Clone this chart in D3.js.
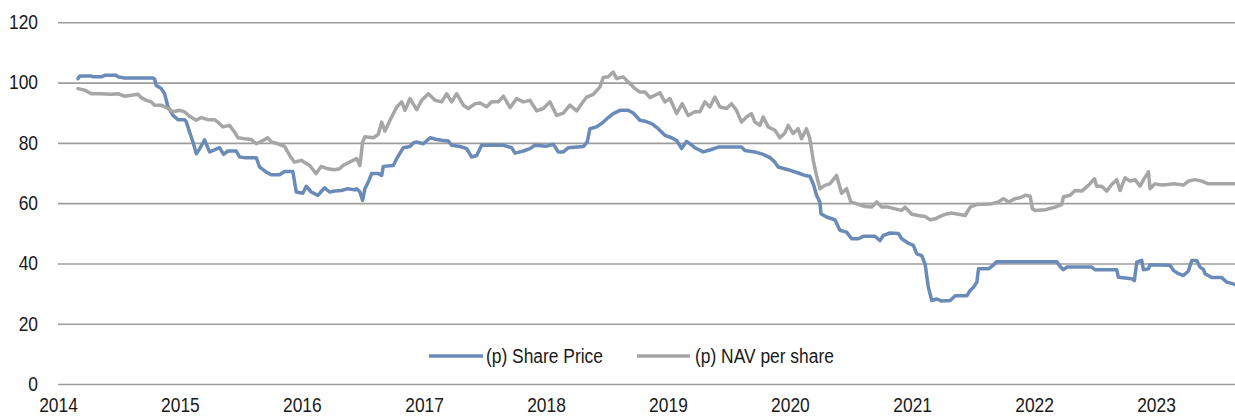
<!DOCTYPE html>
<html><head><meta charset="utf-8">
<script src="https://cdn.jsdelivr.net/npm/d3@7"></script>
<style>body{margin:0;background:#fff;overflow:hidden}</style>
</head><body><svg id="c" width="1235" height="417"></svg>
<script>
// ---- data (decimal years, pence) ----
const yearTicks = [2014,2015,2016,2017,2018,2019,2020,2021,2022,2023];
const yTicks = [0,20,40,60,80,100,120];
const seriesNames = ["(p) Share Price", "(p) NAV per share"];

const shareYears = [2014.164,2014.178,2014.273,2014.287,2014.355,2014.383,2014.478,2014.492,2014.546,2014.779,2014.792,2014.806,2014.847,2014.874,2014.902,2014.943,2014.984,2015.038,2015.052,2015.079,2015.107,2015.134,2015.161,2015.202,2015.243,2015.284,2015.325,2015.358,2015.393,2015.462,2015.489,2015.530,2015.626,2015.653,2015.708,2015.749,2015.817,2015.858,2015.926,2015.954,2016.008,2016.036,2016.077,2016.131,2016.186,2016.227,2016.268,2016.322,2016.377,2016.432,
2016.448,2016.475,2016.497,2016.516,2016.543,2016.571,2016.625,2016.653,2016.666,2016.748,2016.776,2016.830,2016.885,2016.912,2016.939,2016.994,2017.049,2017.103,2017.158,2017.199,2017.226,2017.295,2017.349,2017.390,2017.431,2017.472,2017.650,2017.718,2017.745,2017.814,2017.868,2017.909,2018.005,2018.060,2018.101,2018.142,2018.183,2018.306,2018.338,2018.360,2018.415,2018.470,2018.510,2018.551,2018.606,2018.674,2018.715,2018.770,
2018.811,2018.866,2018.920,2018.975,2019.030,2019.071,2019.112,2019.153,2019.221,2019.289,2019.357,2019.412,2019.603,2019.631,2019.713,2019.781,2019.836,2019.877,2019.904,2019.986,2020.068,2020.122,2020.163,2020.191,2020.218,2020.245,2020.254,2020.300,2020.368,2020.409,2020.464,2020.505,2020.560,2020.601,2020.696,2020.737,2020.765,2020.819,2020.888,2020.915,2020.969,2021.010,2021.038,2021.079,2021.106,2021.133,2021.161,2021.202,
2021.244,2021.312,2021.353,2021.449,2021.476,2021.503,2021.531,2021.544,2021.626,2021.653,2021.694,2022.186,2022.214,2022.241,2022.268,2022.473,2022.500,2022.678,2022.692,2022.801,2022.823,2022.842,2022.883,2022.897,2022.938,2022.951,2023.115,2023.143,2023.184,2023.225,2023.266,2023.293,2023.334,2023.361,2023.388,2023.402,2023.457,2023.539,2023.580,2023.634,2023.648];
const shareValues = [101.3,102.2,102.2,101.9,101.9,102.4,102.4,101.9,101.5,101.5,101.2,99,98,96.3,92,89.1,87.7,87.7,87,83.6,80.3,76.4,78,81,77,77.7,78.4,76.2,77.3,77.3,75.3,75.1,75.1,72,70.3,69.4,69.4,70.5,70.5,63.7,63.3,65.6,63.7,62.6,65.1,63.7,64,64.2,64.8,64.4,
64.8,63.7,60.9,64.8,67,69.8,69.8,69.2,72.2,72.5,74.8,78.4,78.8,80,80.3,79.7,81.7,81.1,80.8,80.6,79.2,78.8,78.1,75.3,75.8,79.2,79.2,78.4,76.6,77.3,78.1,79.2,78.9,79.5,77,77,78.4,78.8,80.3,84.7,85.3,86.9,88.4,89.7,90.8,90.8,89.9,87.5,
87.2,86.4,84.7,82.5,81.7,80.8,78.1,80.5,78.4,77,77.8,78.6,78.6,77.5,77,76.2,75.1,73.6,72,71.1,70,69.2,68.9,66.4,62.6,60.4,56.5,55.4,54.5,51,50.4,48.2,48.2,49,49,47.6,49.3,50.1,49.9,48.2,46.7,46,43.2,42.6,39.8,32.1,27.7,28.2,
27.5,27.7,29.3,29.3,31,32.1,33.8,38.2,38.2,39,40.6,40.6,39,37.9,38.8,38.8,37.9,37.9,35.4,34.9,34.3,40.4,41,37.9,38.2,39.6,39.4,37.7,36.6,36,37.5,41,41,38.8,38,36.6,35.3,35.3,33.8,33.2,33];

const navYears = [2014.164,2014.219,2014.273,2014.355,2014.437,2014.492,2014.546,2014.601,2014.656,2014.683,2014.724,2014.765,2014.792,2014.847,2014.902,2014.943,2014.997,2015.038,2015.079,2015.134,2015.175,2015.230,2015.284,2015.311,2015.352,2015.407,2015.448,2015.475,2015.530,2015.585,2015.626,2015.667,2015.721,2015.749,2015.803,2015.858,2015.899,2015.940,2015.995,2016.063,2016.117,2016.158,2016.213,2016.268,2016.309,2016.336,2016.391,
2016.448,2016.475,2016.497,2016.516,2016.584,2016.625,2016.653,2016.680,2016.721,2016.776,2016.817,2016.844,2016.885,2016.939,2016.980,2017.035,2017.090,2017.144,2017.185,2017.226,2017.267,2017.322,2017.363,2017.418,2017.459,2017.513,2017.554,2017.609,2017.650,2017.705,2017.759,2017.814,2017.868,2017.923,2017.978,2018.032,2018.087,2018.142,2018.196,2018.251,2018.292,2018.333,2018.388,2018.442,2018.470,2018.510,2018.551,2018.579,2018.633,2018.674,2018.729,2018.770,
2018.811,2018.852,2018.893,2018.934,2018.975,2019.016,2019.071,2019.117,2019.166,2019.221,2019.262,2019.303,2019.344,2019.385,2019.426,2019.480,2019.521,2019.562,2019.603,2019.644,2019.685,2019.713,2019.754,2019.781,2019.822,2019.877,2019.918,2019.959,2019.986,2020.027,2020.068,2020.095,2020.136,2020.163,2020.191,2020.218,2020.245,2020.286,2020.327,2020.382,2020.423,2020.464,2020.499,2020.560,2020.614,2020.669,2020.710,2020.751,2020.806,2020.860,2020.915,2020.942,2020.997,2021.051,2021.106,2021.147,
2021.189,2021.230,2021.271,2021.326,2021.380,2021.435,2021.476,2021.531,2021.599,2021.653,2021.708,2021.749,2021.790,2021.845,2021.886,2021.927,2021.968,2021.987,2022.009,2022.091,2022.173,2022.227,2022.241,2022.296,2022.337,2022.391,2022.446,2022.495,2022.514,2022.555,2022.596,2022.637,2022.678,2022.705,2022.746,2022.787,2022.828,2022.869,2022.897,2022.938,2022.951,2022.992,2023.047,2023.102,2023.156,2023.225,2023.266,2023.321,2023.375,2023.429,2023.484,2023.648];
const navValues = [98,97.5,96.3,96.3,96.1,96.3,95.5,95.8,96.1,95,94.1,93.6,92.5,92.5,91.4,90.3,90.8,90.3,88.8,87.5,88.4,87.7,87.7,86.9,85.3,85.8,83.6,81.7,81.4,81.1,79.7,80.5,81.7,80.3,79.7,78.8,75.9,73.6,74.2,72.5,69.8,72.2,71.4,71.1,71.4,72.5,73.6,
74.8,72.5,80.3,82,81.7,82.8,86.9,83.9,87.5,91.9,93.6,90.8,94.7,91,94.1,96.3,94.1,93.6,96.3,93.6,96.3,92.5,91.4,93,93.2,92,93.6,93.6,95.5,91.7,94.7,93.6,94.1,90.6,91.4,93.6,89.1,89.9,92.5,90.6,93,95.2,96.1,98.6,101.7,101.9,103.5,101.3,101.9,100.2,98,96.9,
96.9,95,95.8,96.6,93.6,94.7,89.7,93,89.1,90.3,90.3,93.6,91.9,95.2,91.9,91.4,93,90.8,86.9,88.6,89.7,86.9,85.8,88.6,85.3,84.2,81.7,83.3,85.8,83.1,84.7,81.4,84.7,81.4,74.2,69.2,64.8,65.9,66.4,69.2,63.3,64.8,60.4,59.6,58.9,58.7,60.4,58.7,58.7,58.1,57.6,58.7,56.3,55.9,55.6,54.5,
54.8,55.6,56.3,56.7,56.3,55.9,58.7,59.6,59.6,59.8,60.4,61.5,60.4,61.5,61.8,62.6,62.3,58.1,57.6,57.8,58.7,59.6,62.1,62.6,64.2,64,65.9,68.1,65.6,65.6,64,66.2,67.8,64.2,68.4,67.3,67.8,65.6,67.7,70.4,64.8,66.4,66,66.2,66.4,66,67.3,67.8,67.3,66.4,66.4,66.4];

// ---- styles ----
const colors = ["#6a8bb7", "#a6a6a6"];
const FONT = "'Liberation Sans', Arial, sans-serif";
const SX = 0.87;

function toDate(yv){const yr=Math.floor(yv);const s=Date.UTC(yr,0,1),e=Date.UTC(yr+1,0,1);return new Date(s+(yv-yr)*(e-s));}

const svg = d3.select("#c");
const plotL = 58, plotR = 1235, plotT = 22.3, plotB = 384;
const x = d3.scaleUtc().domain([toDate(2014), toDate(2023.648)]).range([plotL, plotR]);
const y = d3.scaleLinear().domain([0,120]).range([plotB, plotT]);

// gridlines + y labels
const gy = svg.append("g").attr("transform",`translate(${plotL},0)`)
  .call(d3.axisLeft(y).tickValues(yTicks).tickSize(-(plotR-plotL)).tickFormat(d3.format("d")));
gy.select(".domain").remove();
gy.selectAll(".tick line").attr("stroke","#9d9d9d").attr("stroke-width",1.6);
gy.selectAll(".tick text").attr("x",-20/SX).attr("transform",`scale(${SX},1)`)
  .style("font-family",FONT).style("font-size","20px").attr("fill","#1a1a1a");

// x axis labels
const gx = svg.append("g").attr("transform",`translate(0,${plotB})`)
  .call(d3.axisBottom(x).tickValues(yearTicks.map(toDate)).tickSize(0).tickFormat(d3.utcFormat("%Y")));
gx.select(".domain").remove();
gx.selectAll(".tick text").attr("y",14).attr("transform",`scale(${SX},1)`)
  .style("font-family",FONT).style("font-size","20px").attr("fill","#1a1a1a");

const line = d3.line().x(d=>x(toDate(d[0]))).y(d=>y(d[1]));
const shareData = d3.zip(shareYears, shareValues);
const navData = d3.zip(navYears, navValues);

svg.append("path").datum(shareData).attr("d",line).attr("fill","none")
  .attr("stroke",colors[0]).attr("stroke-width",3.5).attr("stroke-linejoin","round").attr("stroke-linecap","round");
svg.append("path").datum(navData).attr("d",line).attr("fill","none")
  .attr("stroke",colors[1]).attr("stroke-width",3.5).attr("stroke-linejoin","round").attr("stroke-linecap","round");

// legend
const legendItems = [{x1:429,x2:483,tx:486},{x1:637,x2:690,tx:695}];
legendItems.forEach((it,i)=>{
  svg.append("line").attr("x1",it.x1).attr("x2",it.x2).attr("y1",356).attr("y2",356)
    .attr("stroke",colors[i]).attr("stroke-width",3.5);
  svg.append("text").attr("transform",`translate(${it.tx},362.5) scale(${SX},1)`)
    .style("font-family",FONT).style("font-size","20px").attr("fill","#1a1a1a").text(seriesNames[i]);
});
</script></body></html>
